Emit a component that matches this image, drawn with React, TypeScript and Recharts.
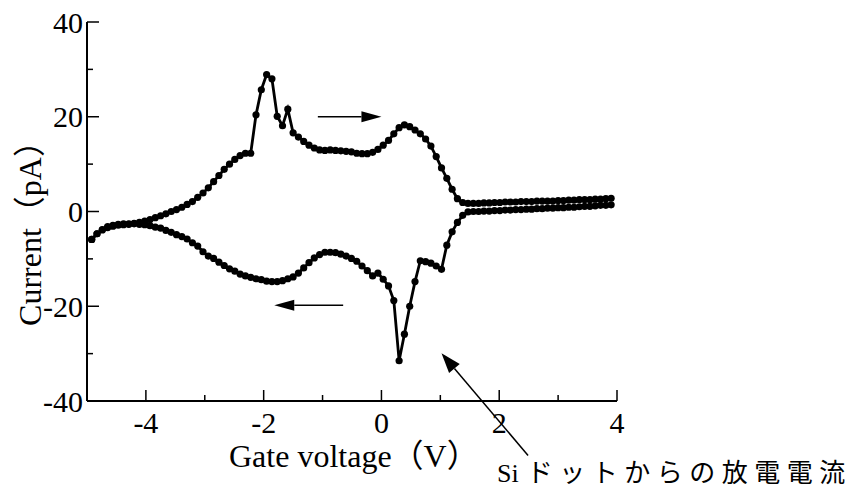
import React from 'react';
import { LineChart, Line, XAxis, YAxis, Label, ReferenceLine } from 'recharts';

// gate sweep, V (same grid for both directions)
const VOLTS = [
  -4.92, -4.83, -4.74, -4.65, -4.56, -4.47, -4.38, -4.29, -4.2, -4.11,
  -4.02, -3.93, -3.84, -3.75, -3.66, -3.57, -3.48, -3.39, -3.3, -3.21,
  -3.12, -3.03, -2.94, -2.85, -2.76, -2.67, -2.58, -2.49, -2.4, -2.31,
  -2.22, -2.13, -2.04, -1.95, -1.86, -1.77, -1.68, -1.59, -1.5, -1.41,
  -1.32, -1.23, -1.14, -1.05, -0.96, -0.87, -0.78, -0.69, -0.6, -0.51,
  -0.42, -0.33, -0.24, -0.15, -0.06, 0.03, 0.12, 0.21, 0.3, 0.39,
  0.48, 0.57, 0.66, 0.75, 0.84, 0.93, 1.02, 1.11, 1.2, 1.29,
  1.38, 1.47, 1.56, 1.65, 1.74, 1.83, 1.92, 2.01, 2.1, 2.19,
  2.28, 2.37, 2.46, 2.55, 2.64, 2.73, 2.82, 2.91, 3.0, 3.09,
  3.18, 3.27, 3.36, 3.45, 3.54, 3.63, 3.72, 3.81, 3.9,
];

// current on the up-sweep, pA
const FORWARD = [
  -5.9, -4.7, -3.9, -3.4, -3.1, -2.9, -2.8, -2.7, -2.5, -2.3,
  -2.0, -1.7, -1.3, -0.9, -0.5, 0.0, 0.4, 0.9, 1.5, 2.1,
  3.0, 3.9, 5.0, 6.3, 7.6, 8.9, 10.0, 11.0, 11.8, 12.3,
  12.3, 20.4, 25.7, 28.9, 28.0, 20.1, 18.1, 21.6, 16.6, 15.7,
  14.8, 14.0, 13.4, 13.0, 12.9, 13.0, 12.9, 12.8, 12.7, 12.6,
  12.3, 12.2, 12.2, 12.5, 13.1, 14.0, 15.0, 16.4, 17.7, 18.3,
  17.9, 17.2, 16.4, 15.3, 13.8, 11.6, 9.2, 7.0, 4.7, 2.7,
  1.9, 1.7, 1.7, 1.7, 1.8, 1.8, 1.9, 1.9, 2.0, 2.0,
  2.0, 2.1, 2.1, 2.1, 2.2, 2.2, 2.2, 2.2, 2.3, 2.3,
  2.4, 2.4, 2.5, 2.5, 2.5, 2.6, 2.6, 2.7, 2.8,
];

// current on the down-sweep, pA
const REVERSE = [
  -5.9, -4.7, -3.8, -3.2, -2.9, -2.7, -2.6, -2.6, -2.6, -2.7,
  -2.8, -3.0, -3.3, -3.5, -4.0, -4.4, -4.9, -5.3, -5.8, -6.6,
  -7.3, -8.5, -9.4, -9.9, -10.7, -11.4, -12.1, -12.6, -13.2, -13.6,
  -13.9, -14.2, -14.4, -14.7, -14.8, -14.8, -14.6, -14.2, -13.8, -13.0,
  -11.9, -10.8, -9.8, -9.1, -8.6, -8.6, -8.7, -9.0, -9.4, -9.9,
  -10.5, -11.5, -12.5, -13.6, -13.0, -14.3, -15.7, -18.8, -31.5, -25.9,
  -20.0, -14.8, -10.4, -10.6, -10.9, -11.5, -12.2, -7.1, -4.3, -2.3,
  -0.8, -0.1, 0.0, 0.0, 0.1, 0.1, 0.2, 0.2, 0.3, 0.3,
  0.4, 0.4, 0.5, 0.5, 0.6, 0.6, 0.7, 0.7, 0.8, 0.8,
  0.9, 0.9, 1.0, 1.1, 1.1, 1.2, 1.3, 1.3, 1.4,
];

const X_TICKS = [-5, -4, -3, -2, -1, 0, 1, 2, 3, 4];
const Y_TICKS = [-40, -30, -20, -10, 0, 10, 20, 30, 40];

const forwardData = VOLTS.map((v, i) => ({ v, i: FORWARD[i] }));
const reverseData = VOLTS.map((v, i) => ({ v, i: REVERSE[i] }));

const SERIF = "'Times New Roman', 'Liberation Serif', 'Noto Sans CJK JP', serif";
const TICK_SIZE = 30;
const TITLE_SIZE = 32;

// ticks point into the plot; labels only on the major ones
const BottomTick = ({ x, y, payload }: any) => {
  const major = payload.value % 2 === 0;
  return (
    <g>
      <line x1={x} y1={y} x2={x} y2={y - (major ? 11 : 6)} stroke="#000" strokeWidth={1.5} />
      {major && (
        <text x={x} y={y + 21} textAnchor="middle" dominantBaseline="central"
          fontFamily={SERIF} fontSize={TICK_SIZE} fill="#000">
          {payload.value}
        </text>
      )}
    </g>
  );
};

const TopTick = ({ x, y, payload }: any) => {
  const major = payload.value % 2 === 0;
  return <line x1={x} y1={y} x2={x} y2={y + (major ? 11 : 6)} stroke="#000" strokeWidth={1.5} />;
};

const LeftTick = ({ x, y, payload }: any) => {
  const major = payload.value % 20 === 0;
  return (
    <g>
      <line x1={x} y1={y} x2={x + (major ? 12 : 6)} y2={y} stroke="#000" strokeWidth={1.5} />
      {major && (
        <text x={x - 4} y={y} textAnchor="end" dominantBaseline="central"
          fontFamily={SERIF} fontSize={TICK_SIZE} fill="#000">
          {payload.value}
        </text>
      )}
    </g>
  );
};

const RightTick = ({ x, y, payload }: any) => {
  const major = payload.value % 20 === 0;
  return <line x1={x} y1={y} x2={x - (major ? 12 : 6)} y2={y} stroke="#000" strokeWidth={1.5} />;
};

// line with a filled head at its second point
const arrow = (headLen: number, headHalf: number) => (p: any) => {
  const { x1, y1, x2, y2 } = p;
  const a = Math.atan2(y2 - y1, x2 - x1);
  const bx = x2 - headLen * Math.cos(a);
  const by = y2 - headLen * Math.sin(a);
  const nx = -Math.sin(a) * headHalf;
  const ny = Math.cos(a) * headHalf;
  return (
    <g>
      <line x1={x1} y1={y1} x2={bx} y2={by} stroke="#000" strokeWidth={1.5} />
      <polygon points={`${x2},${y2} ${bx + nx},${by + ny} ${bx - nx},${by - ny}`} fill="#000" />
    </g>
  );
};

const XTitle = ({ viewBox }: any) => (
  <g>
    <text x={viewBox.x + 142} y={viewBox.y + 66} fontFamily={SERIF} fontSize={TITLE_SIZE} fill="#000">
      Gate voltage（V）
    </text>
    <text x={viewBox.x + 410} y={viewBox.y + 81} fontFamily={SERIF} fontSize={26} fill="#000">
      <tspan>Si</tspan>
      <tspan dx={8} letterSpacing={6.5}>ドットからの放電電流</tspan>
    </text>
  </g>
);

const YTitle = ({ viewBox }: any) => {
  const cx = viewBox.x + 30;
  const cy = viewBox.y + viewBox.height / 2 + 14;
  return (
    <text x={cx} y={cy} transform={`rotate(-90, ${cx}, ${cy})`} textAnchor="middle"
      dominantBaseline="central" fontFamily={SERIF} fontSize={TITLE_SIZE} fill="#000">
      Current（pA）
    </text>
  );
};

const axisLine = { stroke: '#000', strokeWidth: 2 };
const dotStyle = { r: 3.6, fill: '#000', stroke: '#000', strokeWidth: 0 };

export default function App() {
  return (
    <div style={{ position: 'absolute', left: 0, top: 0, width: 854, height: 492, background: '#fff' }}>
      <LineChart width={854} height={492} margin={{ top: 22, right: 237, bottom: 0, left: 0 }}>
        <XAxis dataKey="v" type="number" domain={[-5, 4]} ticks={X_TICKS} interval={0}
          allowDataOverflow height={91} axisLine={axisLine} tickLine={false}
          tickSize={0} tickMargin={0} tick={(p: any) => <BottomTick {...p} />}>
          <Label content={XTitle} />
        </XAxis>
        <XAxis xAxisId="top" orientation="top" type="number" domain={[-5, 4]} ticks={X_TICKS}
          interval={0} allowDataOverflow height={0} axisLine={axisLine} tickLine={false}
          tickSize={0} tickMargin={0} tick={(p: any) => <TopTick {...p} />} />
        <YAxis type="number" domain={[-40, 40]} ticks={Y_TICKS} interval={0} allowDataOverflow
          width={87} axisLine={axisLine} tickLine={false} tickSize={0} tickMargin={0}
          tick={(p: any) => <LeftTick {...p} />}>
          <Label content={YTitle} />
        </YAxis>
        <YAxis yAxisId="right" orientation="right" type="number" domain={[-40, 40]} ticks={Y_TICKS}
          interval={0} allowDataOverflow width={0} axisLine={axisLine} tickLine={false}
          tickSize={0} tickMargin={0} tick={(p: any) => <RightTick {...p} />} />

        <Line data={forwardData} dataKey="i" type="linear" stroke="#000" strokeWidth={2.8}
          dot={dotStyle} isAnimationActive={false} />
        <Line data={reverseData} dataKey="i" type="linear" stroke="#000" strokeWidth={2.8}
          dot={dotStyle} isAnimationActive={false} />

        {/* sweep direction */}
        <ReferenceLine segment={[{ x: -1.08, y: 20 }, { x: 0.0, y: 20 }]} ifOverflow="visible"
          shape={arrow(20, 5.5)} />
        <ReferenceLine segment={[{ x: -0.65, y: -19.8 }, { x: -1.82, y: -19.8 }]} ifOverflow="visible"
          shape={arrow(20, 5.5)} />
        {/* pointer to the discharge dip */}
        <ReferenceLine segment={[{ x: 2.49, y: -51.5 }, { x: 1.02, y: -29.9 }]} ifOverflow="visible"
          shape={arrow(20, 7)} />
      </LineChart>
    </div>
  );
}
